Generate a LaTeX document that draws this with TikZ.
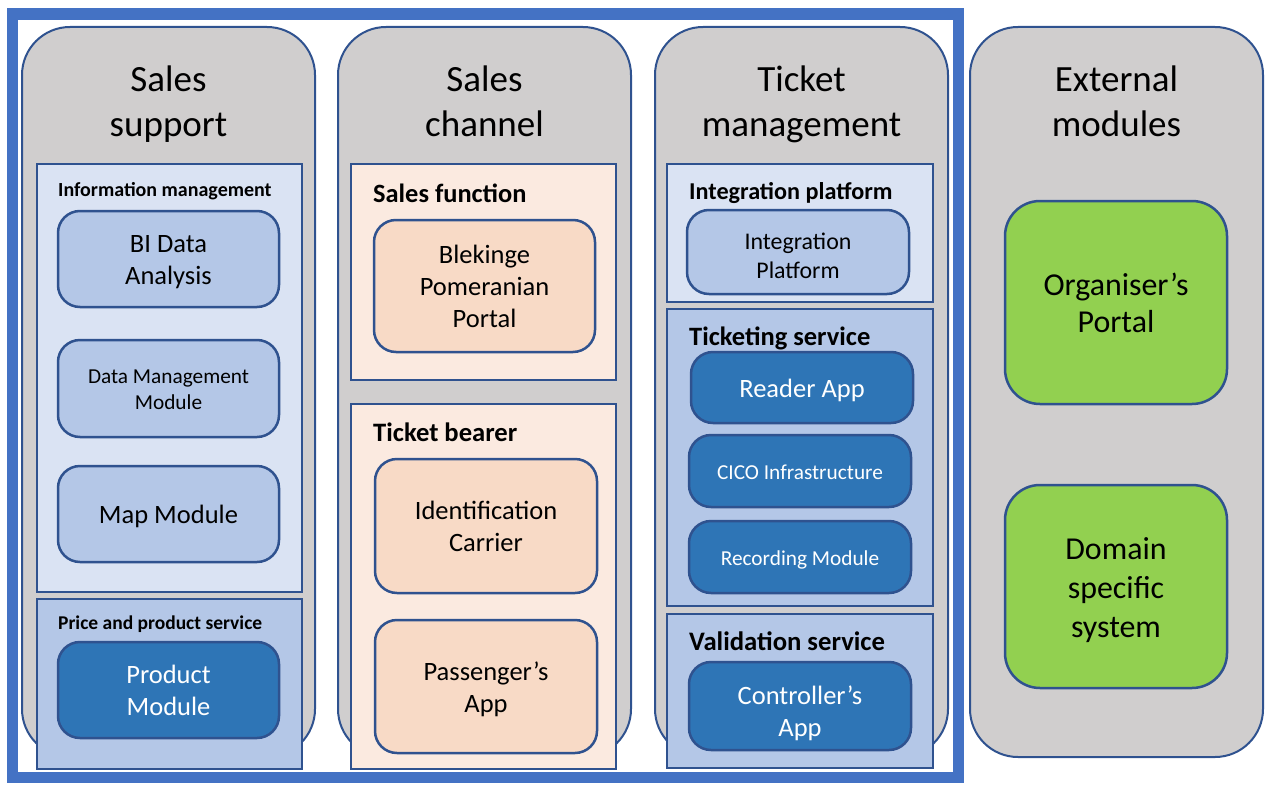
\documentclass[tikz,border=0pt]{standalone}
\usepackage{fontspec}
\setmainfont{Carlito}
\definecolor{frameblue}{HTML}{4472C4}
\definecolor{edge}{HTML}{2F528F}
\definecolor{colgray}{HTML}{D0CECE}
\definecolor{paleblue}{HTML}{DAE3F3}
\definecolor{midblue}{HTML}{B4C7E7}
\definecolor{darkblue}{HTML}{2E75B6}
\definecolor{palepeach}{HTML}{FBEAE0}
\definecolor{peach}{HTML}{F8DAC6}
\definecolor{leaf}{HTML}{92D050}
% a line strut that keeps every text line the same height, so blocks centre evenly
\newcommand\ls{\vrule width0pt height.81\baselineskip depth.19\baselineskip}
\begin{document}
\begin{tikzpicture}[x=1pt,y=-1pt,
  column/.style={draw=edge,line width=2pt,fill=colgray,rounded corners=48pt,
    minimum width=293pt,minimum height=730pt,inner sep=0pt},
  coltitle/.style={anchor=north,align=center,inner sep=0pt,
    font=\fontsize{37}{45}\selectfont},
  group/.style={draw=edge,line width=2pt,rectangle,inner sep=0pt},
  grouplabel/.style={anchor=base west,inner sep=0pt,font=\bfseries\fontsize{#1}{#1}\selectfont},
  module/.style={draw=edge,line width=2.5pt,rounded corners=22pt,align=center,inner sep=0pt},
  big/.style={font=\fontsize{26.5}{32}\selectfont},
  small/.style={font=\fontsize{21.3}{26}\selectfont},
  ext/.style={module,fill=leaf,rounded corners=35pt,minimum width=222pt,minimum height=203pt}]
\useasboundingbox (0,0) rectangle (1265,784);

% columns
\node[column] (c1) at (168.5,392) {};
\node[column] (c2) at (484.5,392) {};
\node[column] (c3) at (801.5,392) {};
\node[column] (c4) at (1116.5,392) {};

% column titles
\node[coltitle] (t1) at (168.5,59.5) {\strut Sales\\\strut support};
\node[coltitle] (t2) at (484.5,59.5) {\strut Sales\\\strut channel};
\node[coltitle] (t3) at (801.5,59.5) {\strut Ticket\\\strut management};
\node[coltitle] (t4) at (1116.5,59.5) {\strut External\\\strut modules};

% Sales support
\node[group,fill=paleblue,minimum width=265pt,minimum height=428pt] (g1) at (169.5,378) {};
\node[grouplabel=20] (l1) at (58,196) {Information management};
\node[module,fill=midblue,big,minimum width=221pt,minimum height=96pt] (bi) at (168.5,259) {\ls BI Data\\\ls Analysis};
\node[module,fill=midblue,small,minimum width=221pt,minimum height=97pt] (dm) at (168.5,388.5) {\ls Data Management\\\ls Module};
\node[module,fill=midblue,big,minimum width=221pt,minimum height=96pt] (map) at (168.5,514) {\ls Map Module};
\node[group,fill=midblue,minimum width=265pt,minimum height=170pt] (g2) at (169.5,684) {};
\node[grouplabel=19.5] (l2) at (58,629) {Price and product service};
\node[module,fill=darkblue,text=white,big,minimum width=221pt,minimum height=96pt] (prod) at (168.5,690) {\ls Product\\\ls Module};

% Sales channel
\node[group,fill=palepeach,minimum width=265pt,minimum height=216pt] (g3) at (483.5,272) {};
\node[grouplabel=26.4] (l3) at (373,202) {Sales function};
\node[module,fill=peach,big,minimum width=221pt,minimum height=132pt] (blek) at (484.5,286) {\ls Blekinge\\\ls Pomeranian\\\ls Portal};
\node[group,fill=palepeach,minimum width=265pt,minimum height=365pt] (g4) at (483.5,586.5) {};
\node[grouplabel=26.6] (l4) at (373,441) {Ticket bearer};
\node[module,fill=peach,big,minimum width=222pt,minimum height=134pt] (idc) at (486,526) {\ls Identification\\\ls Carrier};
\node[module,fill=peach,big,minimum width=222pt,minimum height=133pt] (pass) at (486,686.5) {\ls Passenger’s\\\ls App};

% Ticket management
\node[group,fill=paleblue,minimum width=266pt,minimum height=138pt] (g5) at (800,233) {};
\node[grouplabel=24.2] (l5) at (689,199) {Integration platform};
\node[module,fill=midblue,font=\fontsize{23.9}{29}\selectfont,minimum width=222pt,minimum height=84pt] (intp) at (798,252)
  {\vrule width0pt height29.5pt depth0pt Integration\\\ls Platform};
\node[group,fill=midblue,minimum width=266pt,minimum height=297pt] (g6) at (800,457.5) {};
\node[grouplabel=26.5] (l6) at (689,345) {Ticketing service};
\node[module,fill=darkblue,text=white,big,minimum width=222pt,minimum height=71pt] (reader) at (802,387.5) {\ls Reader App};
\node[module,fill=darkblue,text=white,small,minimum width=222pt,minimum height=72pt] (cico) at (800,471) {\ls CICO Infrastructure};
\node[module,fill=darkblue,text=white,small,minimum width=222pt,minimum height=72pt] (rec) at (800,557) {\ls Recording Module};
\node[group,fill=midblue,minimum width=266pt,minimum height=154pt] (g7) at (800,691) {};
\node[grouplabel=26.7] (l7) at (689,650) {Validation service};
\node[module,fill=darkblue,text=white,big,minimum width=222pt,minimum height=88pt] (ctrl) at (800,706)
  {\vrule width0pt height36pt depth0pt Controller’s\\\ls App};

% External modules
\node[ext,font=\fontsize{31.9}{37}\selectfont] (org) at (1116,302.5) {\ls Organiser’s\\\ls Portal};
\node[ext,font=\fontsize{31.9}{39}\selectfont] (dom) at (1116,586.5) {\ls Domain\\\ls specific\\\ls system};

% outer frame around the three internal columns
\draw[frameblue,line width=11.5pt] (12.5,14) rectangle (958.5,777.5);
\end{tikzpicture}
\end{document}
